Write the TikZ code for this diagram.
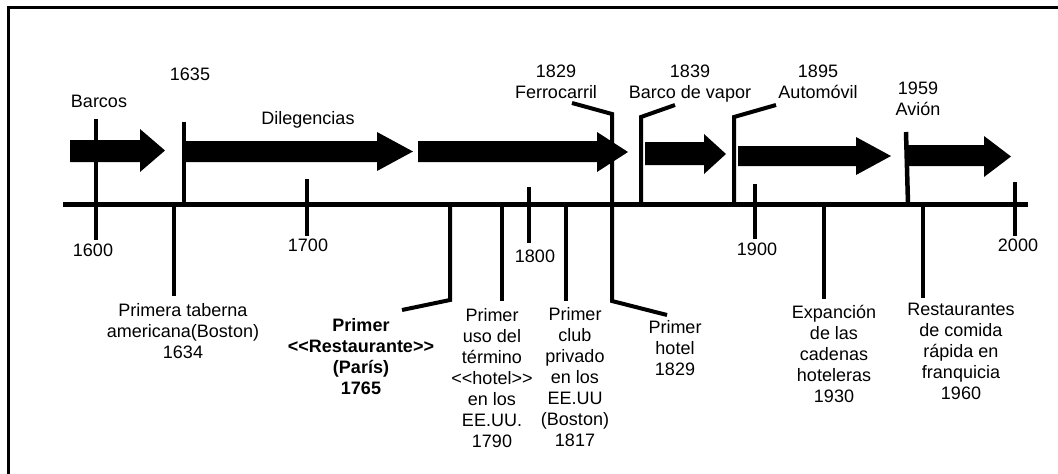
\documentclass[tikz,border=0pt]{standalone}
\usepackage{fontspec}
\setmainfont{Liberation Sans}
% block arrow: start x, head x, tip x, shaft top, shaft bottom, head top, head bottom
\newcommand\tlarrow[7]{\fill (#1,#4) -- (#2,#4) -- (#2,#6) -- (#3,{(#6+#7)/2}) -- (#2,#7) -- (#2,#5) -- (#1,#5) -- cycle;}
\begin{document}
\begin{tikzpicture}[x=1pt,y=-1pt,
  lbl/.style={anchor=north,inner sep=0pt,align=center,
    font=\fontsize{18}{21}\selectfont,execute at begin node=\strut},
  boldlbl/.style={lbl,font=\fontsize{18}{21}\selectfont\bfseries},
  tick/.style={line width=4.5pt},
  lead/.style={line width=4pt,line join=miter},
  axis/.style={line width=5pt}]
\useasboundingbox (0,0) rectangle (1058,474);

% frame
\draw[line width=3pt] (8.5,474) -- (8.5,7.5) -- (1058,7.5);

% transport periods
\tlarrow{70}{140}{165}{140}{162}{129}{172}
\tlarrow{184}{377}{413}{141}{162}{132}{171}
\tlarrow{418}{597}{628}{141}{162}{132}{172}
\tlarrow{645}{704}{726}{142}{165}{134}{174}
\tlarrow{738}{856}{891}{146}{166}{137}{175}
\tlarrow{908}{984}{1011}{145}{166}{136}{177}

% time axis
\coordinate (ax0) at (63,204);
\coordinate (ax1) at (1028,204);
\draw[axis] (ax0) -- (ax1);

% century ticks
\coordinate (c1600a) at (96,119);  \coordinate (c1600b) at (96,240);
\coordinate (c1700a) at (307,179); \coordinate (c1700b) at (307,236);
\coordinate (c1800a) at (529,187); \coordinate (c1800b) at (529,243);
\coordinate (c1900a) at (755,184); \coordinate (c1900b) at (755,239);
\coordinate (c2000a) at (1015,182); \coordinate (c2000b) at (1015,236);
\draw[tick] (c1600a) -- (c1600b);
\draw[tick] (c1700a) -- (c1700b);
\draw[tick] (c1800a) -- (c1800b);
\draw[tick] (c1900a) -- (c1900b);
\draw[tick] (c2000a) -- (c2000b);

% events above the axis
\coordinate (e1635a) at (184,122); \coordinate (e1635b) at (184,204);
\draw[tick] (e1635a) -- (e1635b);
\coordinate (e1839a) at (675,105); \coordinate (e1839k) at (641,117); \coordinate (e1839b) at (641,204);
\draw[lead] (e1839a) -- (e1839k) -- (e1839b);
\coordinate (e1895a) at (776,105); \coordinate (e1895k) at (734,117); \coordinate (e1895b) at (734,204);
\draw[lead] (e1895a) -- (e1895k) -- (e1895b);
\coordinate (e1959a) at (906,132); \coordinate (e1959b) at (908,204);
\draw[tick] (e1959a) -- (e1959b);

% railway 1829 / first hotel 1829
\coordinate (e1829a) at (572,103); \coordinate (e1829k) at (612,114);
\coordinate (e1829m) at (612,301); \coordinate (e1829b) at (667,315);
\draw[lead] (e1829a) -- (e1829k) -- (e1829m) -- (e1829b);

% events below the axis
\coordinate (e1634a) at (174,204); \coordinate (e1634b) at (174,296);
\draw[tick] (e1634a) -- (e1634b);
\coordinate (e1765a) at (450,204); \coordinate (e1765k) at (450,300); \coordinate (e1765b) at (402,310);
\draw[lead] (e1765a) -- (e1765k) -- (e1765b);
\coordinate (e1790a) at (502,204); \coordinate (e1790b) at (502,301);
\draw[tick] (e1790a) -- (e1790b);
\coordinate (e1817a) at (566,204); \coordinate (e1817b) at (566,301);
\draw[tick] (e1817a) -- (e1817b);
\coordinate (e1930a) at (824,204); \coordinate (e1930b) at (824,299);
\draw[tick] (e1930a) -- (e1930b);
\coordinate (e1960a) at (923,204); \coordinate (e1960b) at (923,298);
\draw[tick] (e1960a) -- (e1960b);

% labels above
\node[lbl] (barcos) at (99,93) {Barcos};
\node[lbl] (y1635) at (190,66) {1635};
\node[lbl] (dilig) at (308,110) {Dilegencias};
\node[lbl] (ferro) at (556,65) {1829\\Ferrocarril};
\node[lbl] (vapor) at (690,65) {1839\\Barco de vapor};
\node[lbl] (auto) at (818,65) {1895\\Automóvil};
\node[lbl] (avion) at (918,82) {1959\\Avión};

% axis years
\node[lbl] (y1600) at (93,242) {1600};
\node[lbl] (y1700) at (308,237) {1700};
\node[lbl] (y1800) at (535,248) {1800};
\node[lbl] (y1900) at (757,241) {1900};
\node[lbl] (y2000) at (1018,237) {2000};

% labels below
\node[lbl] (taberna) at (183,303) {Primera taberna\\americana(Boston)\\1634};
\node[boldlbl] (rest) at (361,318) {Primer\\<\kern0pt<Restaurante>\kern0pt>\\(París)\\1765};
\node[lbl] (termino) at (492,308) {Primer\\uso del\\término\\<\kern0pt<hotel>\kern0pt>\\en los\\EE.UU.\\1790};
\node[lbl] (club) at (575,307) {Primer\\club\\privado\\en los\\EE.UU\\(Boston)\\1817};
\node[lbl] (hotel) at (675,320) {Primer\\hotel\\1829};
\node[lbl] (cadenas) at (834,305) {Expanción\\de las\\cadenas\\hoteleras\\1930};
\node[lbl] (rapida) at (961,303) {Restaurantes\\de comida\\rápida en\\franquicia\\1960};
\end{tikzpicture}
\end{document}
